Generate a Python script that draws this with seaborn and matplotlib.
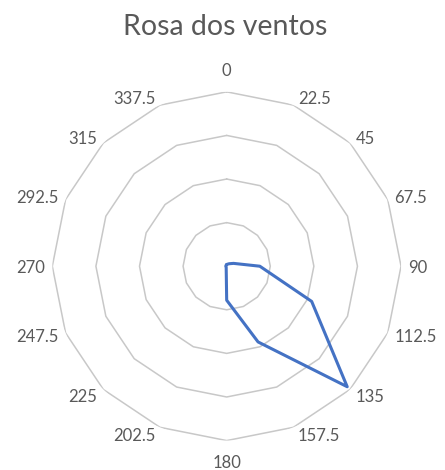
import numpy as np
import pandas as pd
import matplotlib
matplotlib.use("Agg")
import matplotlib.pyplot as plt
import seaborn as sns

# wind directions (degrees) and relative frequency
directions = [0, 22.5, 45, 67.5, 90, 112.5, 135, 157.5,
              180, 202.5, 225, 247.5, 270, 292.5, 315, 337.5]
direction_labels = ["0", "22.5", "45", "67.5", "90", "112.5", "135", "157.5",
                    "180", "202.5", "225", "247.5", "270", "292.5", "315", "337.5"]
frequency = [0.04, 0.05, 0.08, 0.17, 0.76, 2.11, 3.91, 1.88,
             0.78, 0.03, 0.02, 0.02, 0.02, 0.02, 0.02, 0.03]
rings = [1, 2, 3, 4]

TEXT = "#595959"
GRID = "#C8C8C8"
LINE = "#4472C4"

sns.set_style("white")
plt.rcParams["font.family"] = ["Lato", "DejaVu Sans"]

theta = np.deg2rad(directions)
df = pd.DataFrame({
    "theta": np.append(theta, theta[0]),
    "freq": np.append(frequency, frequency[0]),
})

fig = plt.figure(figsize=(4.45, 4.70), dpi=100)
ax = fig.add_axes([0.1175, 0.0626, 0.7838, 0.742], projection="polar")
ax.set_theta_zero_location("N")
ax.set_theta_direction(-1)

# polygonal rings like the spreadsheet radar chart
ring_theta = np.append(theta, theta[0])
for r in rings:
    ax.plot(ring_theta, [r] * len(ring_theta), color=GRID, lw=1.1, zorder=1)

sns.lineplot(data=df, x="theta", y="freq", sort=False, ax=ax,
             color=LINE, lw=2.2, zorder=3)

ax.set_ylim(0, max(rings))
ax.grid(False)
ax.spines["polar"].set_visible(False)
ax.set_xticks([])
ax.set_yticks([])
ax.set_xlabel("")
ax.set_ylabel("")

# category labels outside the outer ring
for ang, lab in zip(directions, direction_labels):
    a = np.deg2rad(ang)
    if ang == 0:
        ha, va, off = "center", "bottom", (0, 13)
    elif ang == 180:
        ha, va, off = "center", "top", (0, -14)
    elif ang < 180:
        ha, va = "left", "center_baseline"
        off = (3 + 4 * np.sin(a), 8 * np.cos(a))
    else:
        ha, va = "right", "center_baseline"
        off = (-(3 + 4 * abs(np.sin(a))), 8 * np.cos(a))
    ax.annotate(lab, xy=(a, max(rings)), xytext=off, textcoords="offset pixels",
                ha=ha, va=va, fontsize=12, color=TEXT, annotation_clip=False)

fig.text(0.507, 0.9255, "Rosa dos ventos", ha="center", va="baseline",
         fontsize=20.5, color=TEXT)

fig.savefig("out.png", dpi=100)
